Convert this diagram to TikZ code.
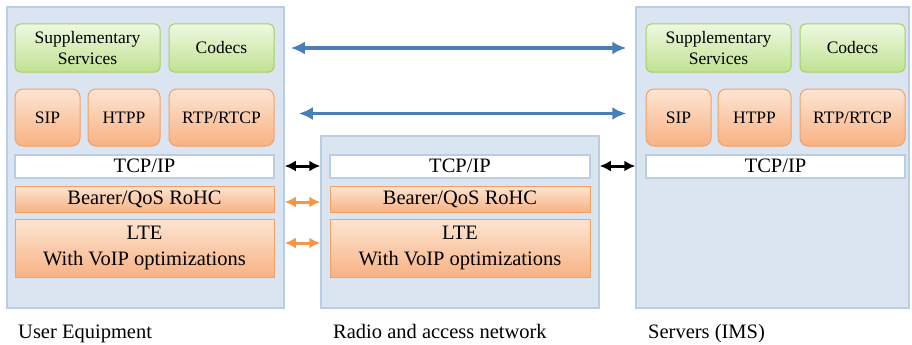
\documentclass[tikz,border=0pt]{standalone}
\usepackage{fontspec}
\setmainfont{Liberation Serif}
\usetikzlibrary{arrows.meta, positioning, calc}
\definecolor{colbg}{HTML}{DBE4F1}
\definecolor{colbd}{HTML}{B9CDE5}
\definecolor{grntop}{HTML}{EEF8E0}
\definecolor{grnbot}{HTML}{C0E291}
\definecolor{grnbd}{HTML}{A3CF66}
\definecolor{orgtop}{HTML}{FDE5D3}
\definecolor{orgbot}{HTML}{F8B283}
\definecolor{orgbd}{HTML}{F4A062}
\definecolor{arrblue}{HTML}{4A7EBB}
\definecolor{arrorg}{HTML}{F79646}
\tikzset{
    column/.style={draw=colbd, line width=1.5pt, fill=colbg, inner sep=0pt},
    grn/.style={draw=grnbd, line width=1pt, rounded corners=5pt, top color=grntop, bottom color=grnbot, inner sep=0pt, minimum height=48pt, align=center, font=\fontsize{17.5}{21}\selectfont},
    org/.style={draw=orgbd, line width=1pt, rounded corners=8pt, top color=orgtop, bottom color=orgbot, inner sep=0pt, minimum height=57pt, align=center, font=\fontsize{17.5}{20}\selectfont},
    tcp/.style={draw=colbd, line width=2pt, fill=white, inner sep=0pt, minimum height=23pt, font=\fontsize{20.5}{22}\selectfont},
    layer/.style={draw=orgbd, line width=1pt, top color=orgtop, bottom color=orgbot, inner sep=0pt, align=center, font=\fontsize{20.5}{26}\selectfont},
    lbl/.style={anchor=base west, inner sep=0pt, font=\fontsize{20.5}{22}\selectfont},
    bluelink/.style={{Latex[length=14pt,width=13pt]}-{Latex[length=14pt,width=13pt]}, line width=3.5pt, arrblue},
    blklink/.style={{Latex[length=11pt,width=11pt]}-{Latex[length=11pt,width=11pt]}, line width=3pt, black},
    orglink/.style={{Latex[length=11pt,width=11pt]}-{Latex[length=11pt,width=11pt]}, line width=3pt, arrorg}
}
\begin{document}
\begin{tikzpicture}[x=1pt, y=-1pt]
    \useasboundingbox (0,0) rectangle (912,345);
    % columns
    \node[column, minimum width=277pt, minimum height=301pt] (ue) at (145.5,157.5) {};
    \node[column, minimum width=278pt, minimum height=172pt] (ran) at (460,222) {};
    \node[column, minimum width=273pt, minimum height=301pt] (ims) at (772.5,157.5) {};
    % user equipment stack
    \node[grn, minimum width=145pt] (suppA) at (87.5,48) {Supplementary\\Services};
    \node[grn, minimum width=105pt] (codecA) at (221.5,48) {Codecs};
    \node[org, minimum width=65pt] (sipA) at (47.5,117.5) {SIP};
    \node[org, minimum width=72pt] (htppA) at (124,117.5) {HTPP};
    \node[org, minimum width=105pt] (rtpA) at (221.5,117.5) {RTP/RTCP};
    \node[tcp, minimum width=259pt] (tcpA) at (144.5,166) {TCP/IP};
    \node[layer, minimum width=259pt, minimum height=26pt] (bearerA) at (144.5,199) {Bearer/QoS RoHC};
    \node[layer, minimum width=259pt, minimum height=58pt] (lteA) at (144.5,248) {LTE\\With VoIP optimizations};
    % radio and access network stack
    \node[tcp, minimum width=260pt] (tcpB) at (460,166) {TCP/IP};
    \node[layer, minimum width=260pt, minimum height=26pt] (bearerB) at (460,199) {Bearer/QoS RoHC};
    \node[layer, minimum width=260pt, minimum height=58pt] (lteB) at (460,248) {LTE\\With VoIP optimizations};
    % servers stack
    \node[grn, minimum width=145pt] (suppC) at (718.5,48) {Supplementary\\Services};
    \node[grn, minimum width=105pt] (codecC) at (852.5,48) {Codecs};
    \node[org, minimum width=65pt] (sipC) at (678.5,117.5) {SIP};
    \node[org, minimum width=73pt] (htppC) at (754.5,117.5) {HTPP};
    \node[org, minimum width=105pt] (rtpC) at (852.5,117.5) {RTP/RTCP};
    \node[tcp, minimum width=259pt] (tcpC) at (775.5,166) {TCP/IP};
    % links
    \draw[bluelink, shorten <=6pt, shorten >=9pt] (ue.east |- codecA) -- (ims.west |- suppC);
    \draw[bluelink, shorten <=14pt, shorten >=9pt] ($(ue.east |- rtpA)+(0,-4)$) -- ($(ims.west |- sipC)+(0,-4)$);
    \draw[blklink] (ue.east |- tcpA) -- (ran.west |- tcpB);
    \draw[blklink] (ran.east |- tcpB) -- (ims.west |- tcpC);
    \draw[orglink] ($(ue.east |- bearerA)+(0,3)$) -- ($(ran.west |- bearerB)+(0,3)$);
    \draw[orglink] ($(ue.east |- lteA)+(0,-5)$) -- ($(ran.west |- lteB)+(0,-5)$);
    % captions
    \node[lbl] (lblA) at (18,338) {User Equipment};
    \node[lbl] (lblB) at (333,338) {Radio and access network};
    \node[lbl] (lblC) at (648,338) {Servers (IMS)};
\end{tikzpicture}
\end{document}
